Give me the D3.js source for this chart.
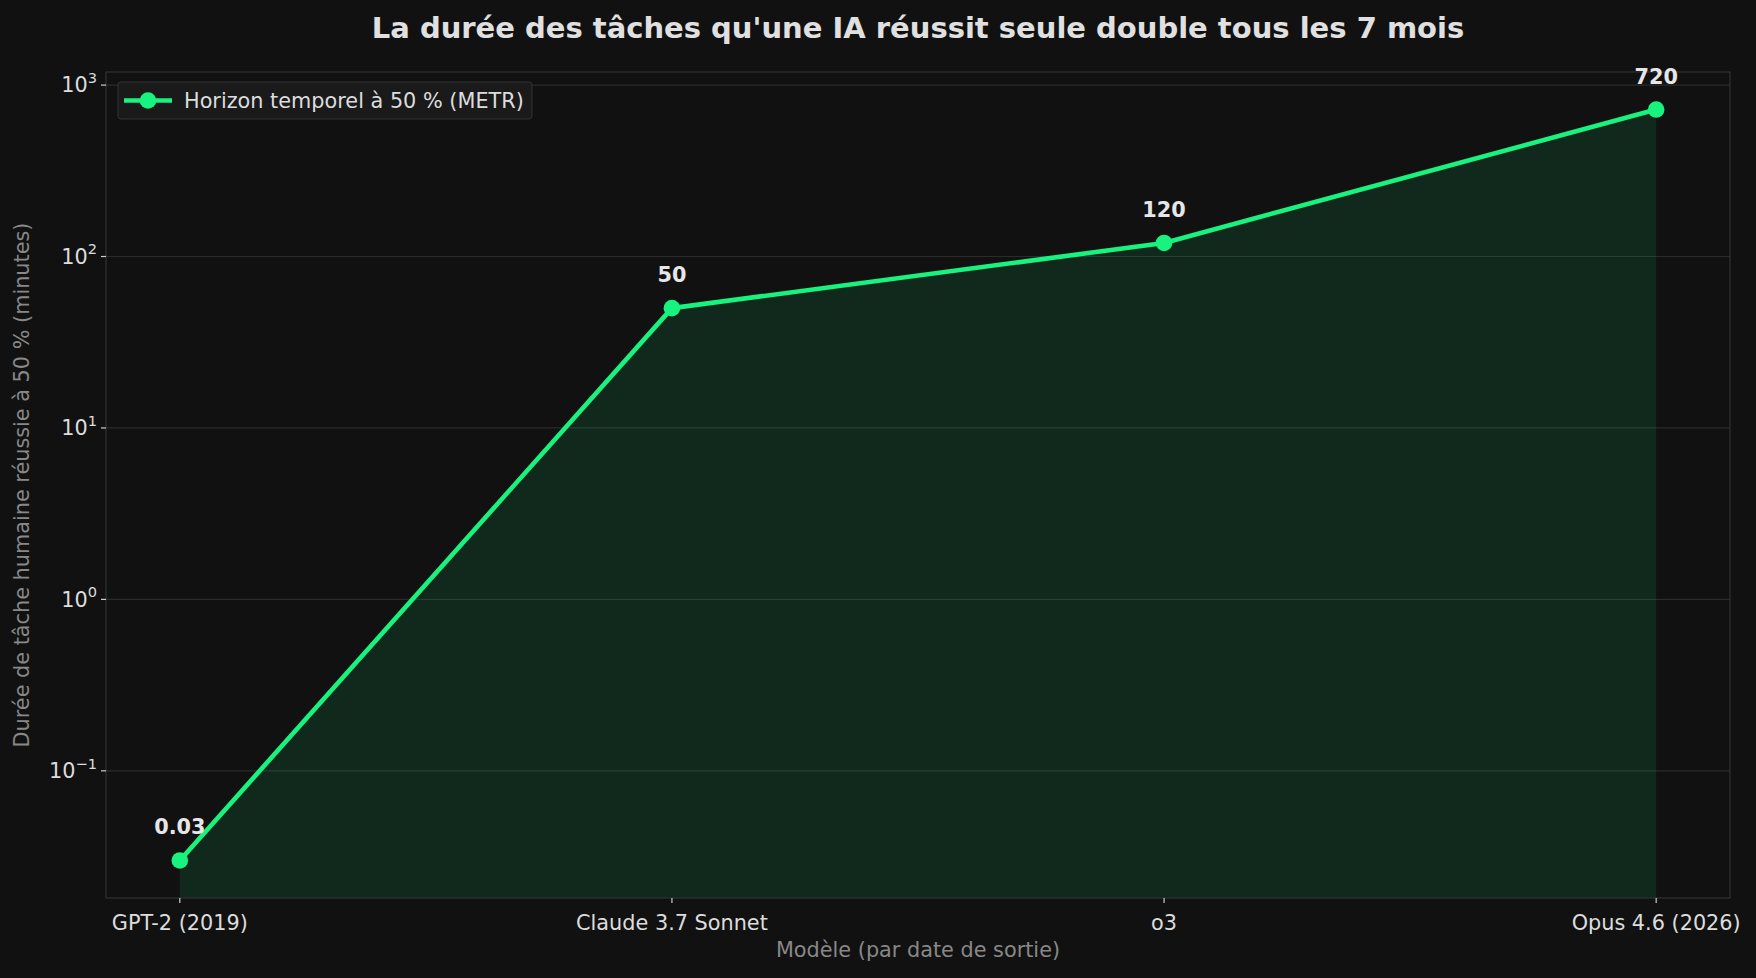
<!DOCTYPE html>
<html>
<head>
<meta charset="utf-8">
<script src="https://cdn.jsdelivr.net/npm/d3@7"></script>
<style>
  html, body { margin: 0; padding: 0; background: #111111; }
  svg { display: block; font-family: "DejaVu Sans", sans-serif; }
</style>
</head>
<body>
<svg id="chart"></svg>
<script>
// Data
const models = ["GPT-2 (2019)", "Claude 3.7 Sonnet", "o3", "Opus 4.6 (2026)"];
const horizonMinutes = [0.03, 50, 120, 720];
const valueLabels = ["0.03", "50", "120", "720"];
const yTickExponents = [-1, 0, 1, 2, 3];

const title = "La durée des tâches qu'une IA réussit seule double tous les 7 mois";
const xLabel = "Modèle (par date de sortie)";
const yLabel = "Durée de tâche humaine réussie à 50 % (minutes)";
const legendLabel = "Horizon temporel à 50 % (METR)";

const fullW = 1756;
const fullH = 978;
const margin = { top: 72, right: 26, bottom: 80, left: 106 };
const width = fullW - margin.left - margin.right;
const height = fullH - margin.top - margin.bottom;

const green = "#18f27e";
const bg = "#111111";
const fs = 20.8;

const svg = d3.select("#chart")
  .attr("width", fullW)
  .attr("height", fullH)
  .attr("viewBox", [0, 0, fullW, fullH]);

svg.append("rect").attr("width", fullW).attr("height", fullH).attr("fill", bg);

const g = svg.append("g")
  .attr("transform", `translate(${margin.left},${margin.top})`);

// matplotlib-like 5% padding on a log axis
const lo = Math.log10(d3.min(horizonMinutes));
const hi = Math.log10(d3.max(horizonMinutes));
const pad = (hi - lo) * 0.05;
const y = d3.scaleLog()
  .domain([Math.pow(10, lo - pad), Math.pow(10, hi + pad)])
  .range([height, 0]);

const x = d3.scalePoint()
  .domain(models)
  .range([0, width])
  .padding(0.15);

const data = models.map((m, i) => ({ model: m, value: horizonMinutes[i], label: valueLabels[i] }));

// grid
g.append("g")
  .selectAll("line")
  .data(yTickExponents)
  .join("line")
  .attr("x1", 0)
  .attr("x2", width)
  .attr("y1", d => y(Math.pow(10, d)))
  .attr("y2", d => y(Math.pow(10, d)))
  .attr("stroke", "#2b2b2b")
  .attr("stroke-width", 1.2);

// area under the line
const area = d3.area()
  .x(d => x(d.model))
  .y0(height)
  .y1(d => y(d.value));

g.append("path")
  .datum(data)
  .attr("d", area)
  .attr("fill", green)
  .attr("fill-opacity", 0.1);

// spines
g.append("rect")
  .attr("width", width)
  .attr("height", height)
  .attr("fill", "none")
  .attr("stroke", "#333333")
  .attr("stroke-width", 1.2);

// y axis ticks
const yTicks = g.append("g")
  .selectAll("g")
  .data(yTickExponents)
  .join("g")
  .attr("transform", d => `translate(0,${y(Math.pow(10, d))})`);

yTicks.append("line")
  .attr("x1", -5)
  .attr("x2", 0)
  .attr("stroke", "#cccccc")
  .attr("stroke-width", 1.2);

const yTickText = yTicks.append("text")
  .attr("x", -9)
  .attr("dy", "0.35em")
  .attr("text-anchor", "end")
  .attr("fill", "#dddddd")
  .attr("font-size", fs);
yTickText.append("tspan").text("10");
yTickText.append("tspan")
  .attr("font-size", 14.6)
  .attr("dy", "-0.65em")
  .text(d => d < 0 ? "\u2212" + Math.abs(d) : d);

// x axis ticks
const xTicks = g.append("g")
  .attr("transform", `translate(0,${height})`)
  .selectAll("g")
  .data(models)
  .join("g")
  .attr("transform", d => `translate(${x(d)},0)`);

xTicks.append("line")
  .attr("y1", 0)
  .attr("y2", 5)
  .attr("stroke", "#cccccc")
  .attr("stroke-width", 1.2);

xTicks.append("text")
  .attr("y", 32)
  .attr("text-anchor", "middle")
  .attr("fill", "#dddddd")
  .attr("font-size", fs)
  .text(d => d);

// line + markers
const line = d3.line()
  .x(d => x(d.model))
  .y(d => y(d.value));

g.append("path")
  .datum(data)
  .attr("d", line)
  .attr("fill", "none")
  .attr("stroke", green)
  .attr("stroke-width", 4.6)
  .attr("stroke-linejoin", "round");

g.append("g")
  .selectAll("circle")
  .data(data)
  .join("circle")
  .attr("cx", d => x(d.model))
  .attr("cy", d => y(d.value))
  .attr("r", 8.3)
  .attr("fill", green);

// value labels
g.append("g")
  .selectAll("text")
  .data(data)
  .join("text")
  .attr("x", d => x(d.model))
  .attr("y", d => y(d.value) - 26)
  .attr("text-anchor", "middle")
  .attr("fill", "#e6e6e6")
  .attr("font-size", fs)
  .attr("font-weight", "bold")
  .text(d => d.label);

// legend
const legend = g.append("g").attr("transform", "translate(12,10)");
legend.append("rect")
  .attr("width", 414)
  .attr("height", 37)
  .attr("rx", 3)
  .attr("fill", "#1a1a1a")
  .attr("stroke", "#333333")
  .attr("stroke-width", 1);
legend.append("line")
  .attr("x1", 6).attr("x2", 54)
  .attr("y1", 18.5).attr("y2", 18.5)
  .attr("stroke", green)
  .attr("stroke-width", 4.6);
legend.append("circle")
  .attr("cx", 30).attr("cy", 18.5).attr("r", 8.3)
  .attr("fill", green);
legend.append("text")
  .attr("x", 66)
  .attr("y", 18.5)
  .attr("dy", "0.35em")
  .attr("fill", "#dddddd")
  .attr("font-size", fs)
  .text(legendLabel);

// title and axis labels
svg.append("text")
  .attr("x", margin.left + width / 2)
  .attr("y", 38)
  .attr("text-anchor", "middle")
  .attr("fill", "#e0e0e0")
  .attr("font-size", 29)
  .attr("font-weight", "bold")
  .text(title);

svg.append("text")
  .attr("x", margin.left + width / 2)
  .attr("y", fullH - 21)
  .attr("text-anchor", "middle")
  .attr("fill", "#888888")
  .attr("font-size", fs)
  .text(xLabel);

svg.append("text")
  .attr("transform", `translate(29,${margin.top + height / 2}) rotate(-90)`)
  .attr("text-anchor", "middle")
  .attr("fill", "#888888")
  .attr("font-size", fs)
  .text(yLabel);
</script>
</body>
</html>
